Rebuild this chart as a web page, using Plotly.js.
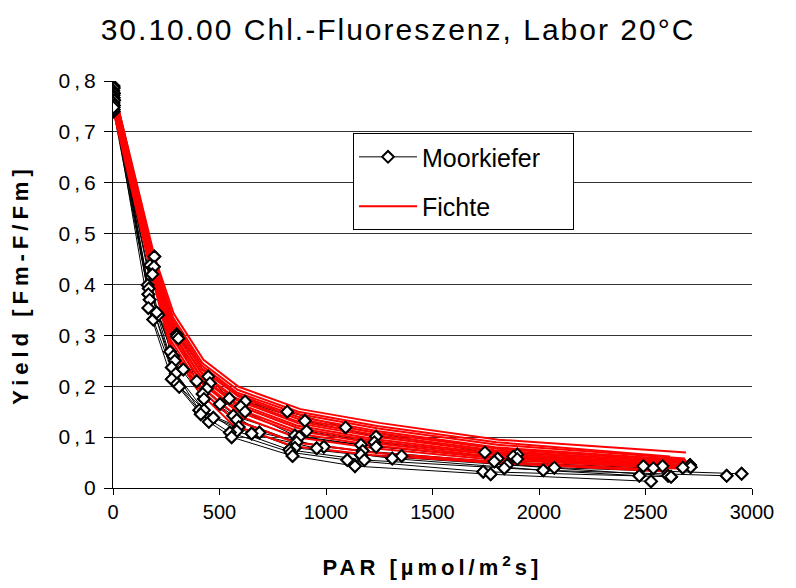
<!DOCTYPE html>
<html>
<head>
<meta charset="utf-8">
<script src="https://cdn.plot.ly/plotly-3.0.1.min.js"></script>
<style>
html,body{margin:0;padding:0;background:#fff;}
#chart{width:796px;height:588px;}
#chart .gtitle{letter-spacing:2px;}
#chart .ytitle{letter-spacing:5px;}
#chart .xtitle{letter-spacing:4px;}
#chart .ytick text{letter-spacing:4px;}
</style>
</head>
<body>
<div id="chart"></div>
<script>
// ---- Moorkiefer (black, diamonds) ----
const mk01Par = [2,194,299,447,546,818,1092,1746,2709];
const mk01Y   = [0.790,0.455,0.302,0.219,0.176,0.150,0.119,0.070,0.045];
const mk02Par = [3,174,300,393,620,901,1235,1898,2580];
const mk02Y   = [0.786,0.438,0.298,0.210,0.170,0.132,0.101,0.066,0.043];
const mk03Par = [1,192,307,455,600,909,1227,1879,2490];
const mk03Y   = [0.781,0.435,0.294,0.206,0.160,0.112,0.090,0.062,0.043];
const mk04Par = [4,185,268,440,620,854,1164,1806,2712];
const mk04Y   = [0.776,0.420,0.268,0.195,0.150,0.103,0.085,0.058,0.041];
const mk05Par = [2,163,283,421,565,874,1235,1898,2675];
const mk05Y   = [0.772,0.399,0.259,0.185,0.142,0.100,0.081,0.057,0.040];
const mk06Par = [3,168,290,427,581,862,1172,1790,2537];
const mk06Y   = [0.767,0.392,0.250,0.175,0.134,0.090,0.073,0.052,0.039];
const mk07Par = [5,166,276,405,590,854,1164,1850,2606];
const mk07Y   = [0.762,0.381,0.237,0.153,0.120,0.079,0.065,0.045,0.024];
const mk08Par = [2,172,295,427,581,828,1180,1837,2471];
const mk08Y   = [0.757,0.370,0.225,0.153,0.112,0.075,0.055,0.039,0.024];
const mk09Par = [4,166,276,412,549,835,1100,1738,2620];
const mk09Y   = [0.752,0.354,0.214,0.145,0.109,0.070,0.055,0.032,0.022];
const mk10Par = [3,189,300,450,557,843,1136,1773,2526];
const mk10Y   = [0.740,0.331,0.205,0.130,0.100,0.063,0.043,0.027,0.013];
const mk11Par = [3,213,330,502,687,990,1355,2072,2951];
const mk11Y   = [0.744,0.340,0.233,0.165,0.109,0.081,0.063,0.040,0.028];
const mk12Par = [2,205,311,471,651,956,1311,2020,2881];
const mk12Y   = [0.748,0.345,0.199,0.138,0.107,0.078,0.058,0.035,0.024];

// ---- Fichte (red lines) ----
const fi01Par = [0,195,285,425,590,880,1250,1810,2690];
const fi01Y   = [0.790,0.455,0.343,0.252,0.199,0.155,0.128,0.095,0.070];
const fi02Par = [0,192,282,420,585,870,1240,1800,2615];
const fi02Y   = [0.785,0.452,0.335,0.245,0.193,0.150,0.122,0.090,0.062];
const fi03Par = [0,190,280,418,580,875,1245,1805,2685];
const fi03Y   = [0.782,0.450,0.330,0.240,0.188,0.145,0.117,0.085,0.058];
const fi04Par = [0,188,278,415,582,868,1238,1795,2690];
const fi04Y   = [0.780,0.448,0.325,0.236,0.184,0.140,0.112,0.080,0.055];
const fi05Par = [0,190,282,420,588,872,1242,1808,2700];
const fi05Y   = [0.778,0.446,0.320,0.232,0.180,0.135,0.108,0.077,0.052];
const fi06Par = [0,186,276,414,578,865,1235,1790,2680];
const fi06Y   = [0.775,0.444,0.316,0.228,0.176,0.131,0.104,0.074,0.050];
const fi07Par = [0,188,280,418,584,870,1240,1800,2732];
const fi07Y   = [0.772,0.442,0.312,0.224,0.172,0.127,0.100,0.071,0.047];
const fi08Par = [0,185,275,412,575,862,1232,1785,2690];
const fi08Y   = [0.770,0.440,0.308,0.220,0.168,0.123,0.096,0.068,0.045];
const fi09Par = [0,187,278,416,580,866,1236,1795,2700];
const fi09Y   = [0.767,0.437,0.304,0.216,0.163,0.118,0.092,0.065,0.043];
const fi10Par = [0,184,274,410,572,858,1228,1780,2680];
const fi10Y   = [0.764,0.434,0.300,0.212,0.158,0.113,0.088,0.062,0.041];
const fi11Par = [0,186,276,414,578,864,1234,1790,2690];
const fi11Y   = [0.760,0.432,0.296,0.207,0.152,0.107,0.083,0.059,0.040];
const fi12Par = [0,183,272,408,570,855,1225,1775,2670];
const fi12Y   = [0.755,0.428,0.290,0.202,0.145,0.100,0.078,0.056,0.038];
const fi13Par = [0,182,270,405,565,850,1220,1770,2600];
const fi13Y   = [0.750,0.425,0.284,0.196,0.135,0.090,0.070,0.052,0.035];
const fi14Par = [0,180,268,402,560,845,1215,1765,2620];
const fi14Y   = [0.745,0.420,0.278,0.190,0.125,0.082,0.065,0.050,0.032];

// ---- ticks ----
const xTickVals = [0,500,1000,1500,2000,2500,3000];
const xTickText = ["0","500","1000","1500","2000","2500","3000"];
const yTickVals = [0,0.1,0.2,0.3,0.4,0.5,0.6,0.7,0.8];
const yTickText = ["0","0,1","0,2","0,3","0,4","0,5","0,6","0,7","0,8"];

const mkPars = [mk01Par,mk02Par,mk03Par,mk04Par,mk05Par,mk06Par,mk07Par,mk08Par,mk09Par,mk10Par,mk11Par,mk12Par];
const mkYs   = [mk01Y,mk02Y,mk03Y,mk04Y,mk05Y,mk06Y,mk07Y,mk08Y,mk09Y,mk10Y,mk11Y,mk12Y];
const fiPars = [fi01Par,fi02Par,fi03Par,fi04Par,fi05Par,fi06Par,fi07Par,fi08Par,fi09Par,fi10Par,fi11Par,fi12Par,fi13Par,fi14Par];
const fiYs   = [fi01Y,fi02Y,fi03Y,fi04Y,fi05Y,fi06Y,fi07Y,fi08Y,fi09Y,fi10Y,fi11Y,fi12Y,fi13Y,fi14Y];

const FONT = "Liberation Sans, Arial, sans-serif";
const PAD = '\u00a0\u00a0\u00a0\u00a0';
const markerStyle = {symbol:'diamond', size:9, color:'#ffffff', line:{color:'#000000', width:2}};
const traces = [];
mkPars.forEach((p,i)=>{
  traces.push({x:p, y:mkYs[i], type:'scatter', mode:'lines+markers', name:'Moorkiefer' + PAD,
    legendgroup:'mk', showlegend:i===0, line:{color:'#000000', width:1}, marker:markerStyle, hoverinfo:'skip'});
});
fiPars.forEach((p,i)=>{
  traces.push({x:p, y:fiYs[i], type:'scatter', mode:'lines', name:'Fichte',
    legendgroup:'fi', showlegend:i===0, line:{color:'#ff0000', width:2}, hoverinfo:'skip'});
});
mkPars.forEach((p,i)=>{
  traces.push({x:p, y:mkYs[i], type:'scatter', mode:'markers', name:'Moorkiefer',
    legendgroup:'mk', showlegend:false, marker:markerStyle, hoverinfo:'skip'});
});

const layout = {
  width:796, height:588,
  paper_bgcolor:'#ffffff', plot_bgcolor:'#ffffff',
  margin:{l:113, r:44, t:81, b:100},
  font:{family:FONT, color:'#000000', size:20},
  title:{text:'30.10.00 Chl.-Fluoreszenz, Labor 20°C', font:{family:FONT, size:30, color:'#000'},
    x:0.5, xanchor:'center', xref:'container', y:0.95, yanchor:'middle'},
  xaxis:{range:[0,3000], tickvals:xTickVals, ticktext:xTickText, ticks:'outside', ticklen:6, tickcolor:'#000',
    showline:true, linecolor:'#000', linewidth:1, showgrid:false, zeroline:false,
    tickfont:{size:20, family:FONT},
    title:{text:'<b>PAR [µmol/m<sup>2</sup>s]</b>', font:{size:22, family:FONT}, standoff:37}},
  yaxis:{range:[0,0.8], tickvals:yTickVals, ticktext:yTickText, ticks:'outside', ticklen:8, tickcolor:'#000',
    showline:true, linecolor:'#000', linewidth:1, showgrid:true, gridcolor:'#333333', gridwidth:1, zeroline:false,
    tickfont:{size:21, family:FONT},
    title:{text:'<b>Yield [Fm-F/Fm]</b>\u00a0\u00a0\u00a0', font:{size:22, family:FONT}, standoff:35}},
  showlegend:true,
  legend:{x:0.3756, y:0.872, xanchor:'left', yanchor:'top', bgcolor:'#ffffff', bordercolor:'#000', borderwidth:1,
    font:{size:25, family:FONT}, itemwidth:58, tracegroupgap:14, traceorder:'grouped'}
};

Plotly.newPlot('chart', traces, layout, {staticPlot:true, displayModeBar:false});
</script>
</body>
</html>
